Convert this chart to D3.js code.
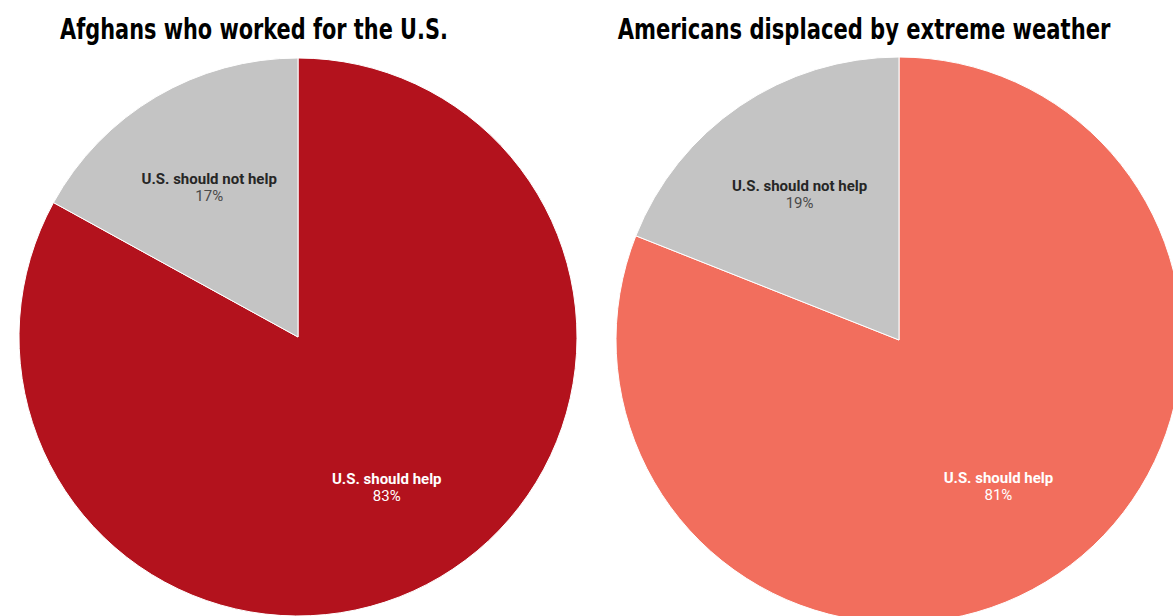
<!DOCTYPE html>
<html>
<head>
<meta charset="utf-8">
<script src="https://cdn.jsdelivr.net/npm/d3@7"></script>
<style>
  html, body { margin: 0; padding: 0; background: #fff; overflow: hidden; }
  svg { display: block; }
</style>
</head>
<body>
<svg id="chart" width="1173" height="616"></svg>
<script>
// Survey answers, share of respondents (%)
const titles = ["Afghans who worked for the U.S.", "Americans displaced by extreme weather"];
const answers = ["U.S. should help", "U.S. should not help"];
const afghanValues = [83, 17];
const weatherValues = [81, 19];
const helpColors = ["#b3121d", "#f26e5d"];
const notHelpColor = "#c4c4c4";

const panels = [
  { title: titles[0], values: afghanValues, helpColor: helpColors[0], cx: 298, cy: 337, r: 279, titleX: 254, titleW: 388 },
  { title: titles[1], values: weatherValues, helpColor: helpColors[1], cx: 899, cy: 340, r: 283, titleX: 864, titleW: 493 }
];

const svg = d3.select("#chart");

const pie = d3.pie().sort(null).value(d => d.value);

panels.forEach(p => {
  const g = svg.append("g").attr("transform", `translate(${p.cx},${p.cy})`);
  const data = answers.map((a, i) => ({ answer: a, value: p.values[i] }));
  const arcs = pie(data);
  const arc = d3.arc().innerRadius(0).outerRadius(p.r);
  const color = d => d.data.answer === answers[0] ? p.helpColor : notHelpColor;

  g.selectAll("path.slice")
    .data(arcs)
    .join("path")
    .attr("class", "slice")
    .attr("d", arc)
    .attr("fill", color)
    .attr("stroke", "#ffffff")
    .attr("stroke-width", 1);

  const lbl = g.selectAll("g.label")
    .data(arcs)
    .join("g")
    .attr("class", "label")
    .attr("transform", d => {
      const a = (d.startAngle + d.endAngle) / 2;
      const rr = p.r * 0.625;
      return `translate(${rr * Math.sin(a)},${-rr * Math.cos(a)})`;
    });

  lbl.append("text")
    .attr("text-anchor", "middle")
    .attr("y", -3)
    .attr("font-family", "Roboto, 'Noto Sans', sans-serif")
    .attr("font-weight", "bold")
    .attr("font-size", 15)
    .attr("fill", d => d.data.answer === answers[0] ? "#ffffff" : "#262626")
    .text(d => d.data.answer);

  lbl.append("text")
    .attr("text-anchor", "middle")
    .attr("y", 14)
    .attr("font-family", "Roboto, 'Noto Sans', sans-serif")
    .attr("font-size", 15)
    .attr("fill", d => d.data.answer === answers[0] ? "#ffffff" : "#4a4a4a")
    .text(d => d.data.value + "%");

  // Title: bold, squeezed horizontally to a condensed look
  const tg = svg.append("g");
  const t = tg.append("text")
    .attr("x", 0)
    .attr("y", 0)
    .attr("text-anchor", "middle")
    .attr("font-family", "'DejaVu Sans', sans-serif")
    .attr("font-weight", "bold")
    .attr("font-size", 29)
    .attr("fill", "#000")
    .text(p.title);
  const natural = t.node().getComputedTextLength();
  tg.attr("transform", `translate(${p.titleX},39) scale(${p.titleW / natural},1)`);
});
</script>
</body>
</html>
